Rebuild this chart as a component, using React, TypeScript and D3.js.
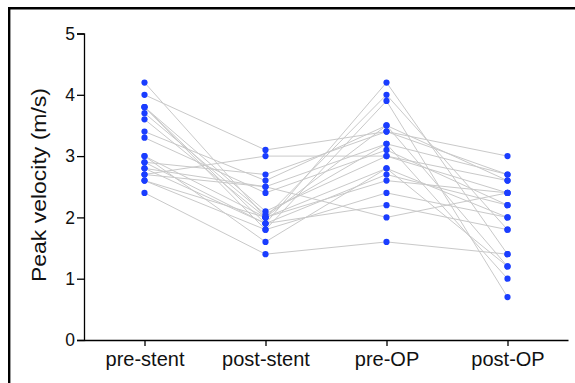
import * as d3 from "d3";
import { useEffect, useRef } from "react";

// time points on the x axis
const stages = ["pre-stent", "post-stent", "pre-OP", "post-OP"];

// one value per stage for each patient
const preStent = [4.2, 4.0, 3.8, 3.8, 3.8, 3.7, 3.6, 3.4, 3.3, 3.0, 3.0, 2.9, 2.9, 2.8, 2.8, 2.7, 2.7, 2.6, 2.6, 2.4];
const postStent = [2.0, 3.1, 1.9, 2.1, 1.8, 2.05, 2.0, 2.6, 2.4, 1.6, 2.0, 2.7, 1.9, 2.5, 1.9, 3.0, 2.5, 1.8, 2.0, 1.4];
const preOP = [3.5, 3.4, 4.2, 3.0, 3.9, 3.2, 4.0, 3.5, 3.1, 2.8, 2.6, 3.4, 2.2, 3.2, 2.7, 3.0, 2.0, 2.4, 2.8, 1.6];
const postOP = [1.2, 2.7, 1.4, 2.4, 0.7, 1.0, 1.8, 2.6, 2.2, 2.0, 2.4, 3.0, 1.8, 2.7, 2.2, 2.6, 2.4, 2.0, 1.2, 1.4];

const yTicks = [0, 1, 2, 3, 4, 5];

export default function App() {
    const ref = useRef<SVGSVGElement>(null);

    useEffect(() => {
        const svg = d3.select(ref.current);
        svg.selectAll("*").remove();

        const width = 575;
        const height = 383;
        const font = "'Liberation Sans', Arial, Helvetica, sans-serif";

        const patients = preStent.map((v, i) => [v, postStent[i], preOP[i], postOP[i]]);

        const x = d3.scalePoint().domain(stages).range([84, 568]).padding(0.5);
        const y = d3.scaleLinear().domain([0, 5]).range([340, 33.5]);

        // outer frame, only left and top edges are in view
        svg.append("path")
            .attr("d", `M9.2,${height}V8.2H${width}`)
            .attr("fill", "none")
            .attr("stroke", "#000")
            .attr("stroke-width", 2.4);

        // connecting lines
        const line = d3.line<number>()
            .x((d, i) => x(stages[i])!)
            .y(d => y(d));

        svg.append("g")
            .selectAll("path")
            .data(patients)
            .join("path")
            .attr("d", d => line(d))
            .attr("fill", "none")
            .attr("stroke", "#c9c9c9")
            .attr("stroke-width", 1);

        // dots
        svg.append("g")
            .selectAll("g")
            .data(patients)
            .join("g")
            .selectAll("circle")
            .data(d => d.map((v, i) => ({ stage: stages[i], v })))
            .join("circle")
            .attr("cx", d => x(d.stage)!)
            .attr("cy", d => y(d.v))
            .attr("r", 3.1)
            .attr("fill", "#1a3dff");

        // y axis
        const yAxis = svg.append("g")
            .attr("transform", "translate(84,0)")
            .call(d3.axisLeft(y).tickValues(yTicks).tickFormat(d3.format("d")).tickSize(7).tickPadding(2));
        yAxis.select(".domain").attr("stroke", "#000").attr("stroke-width", 1.3);
        yAxis.selectAll("line").attr("stroke", "#000").attr("stroke-width", 1.3);
        yAxis.selectAll("text")
            .attr("font-family", font)
            .attr("font-size", 17.5)
            .attr("fill", "#111");

        // x axis
        const xAxis = svg.append("g")
            .attr("transform", "translate(0,340)")
            .call(d3.axisBottom(x).tickSize(6).tickSizeOuter(0).tickPadding(6));
        xAxis.select(".domain").attr("stroke", "#000").attr("stroke-width", 1.3);
        xAxis.selectAll("line").attr("stroke", "#000").attr("stroke-width", 1.3);
        xAxis.selectAll("text")
            .attr("font-family", font)
            .attr("font-size", 20)
            .attr("fill", "#111");

        // y title
        svg.append("text")
            .attr("transform", `translate(46,${(88 + 282) / 2}) rotate(-90)`)
            .attr("text-anchor", "middle")
            .attr("font-family", font)
            .attr("font-size", 20)
            .attr("textLength", 194)
            .attr("lengthAdjust", "spacingAndGlyphs")
            .attr("fill", "#111")
            .text("Peak velocity (m/s)");
    }, []);

    return (
        <svg
            ref={ref}
            width={575}
            height={383}
            style={{ position: "absolute", left: 0, top: 0, background: "#fff" }}
        ></svg>
    );
}
